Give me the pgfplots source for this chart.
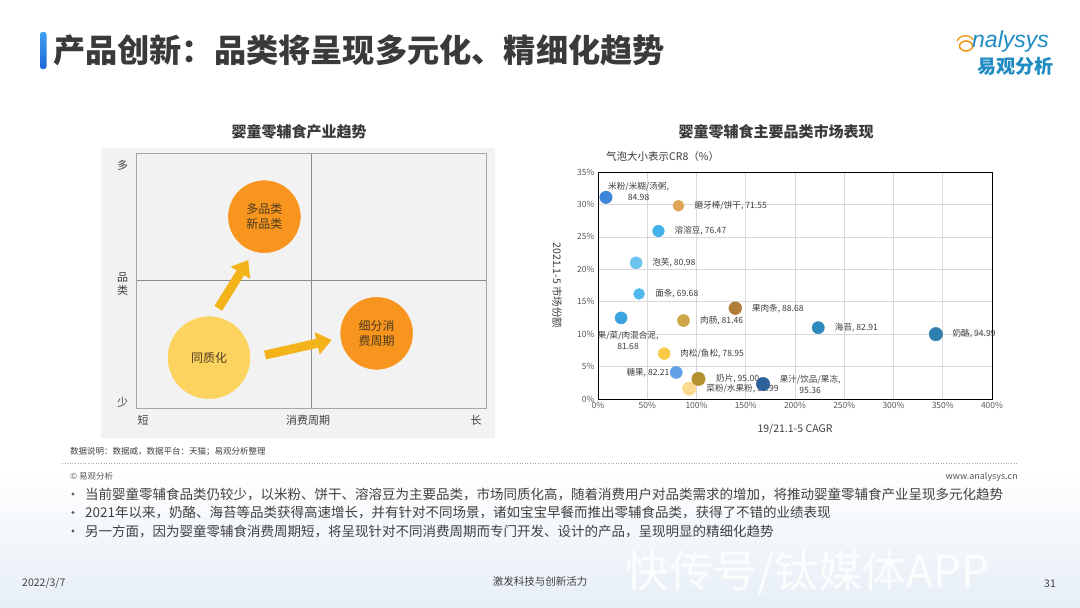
\documentclass[border=0pt]{standalone}
\usepackage{fontspec}
\setmainfont{Noto Sans CJK SC}
\newfontfamily\logofont{Liberation Sans}
\usepackage{pgfplots}
\pgfplotsset{compat=1.18}
\usetikzlibrary{arrows.meta}

\definecolor{titlegray}{HTML}{3A3A3A}
\definecolor{txtgray}{HTML}{404040}
\definecolor{tickgray}{HTML}{595959}
\definecolor{gridgray}{HTML}{D9D9D9}
\definecolor{bggray}{HTML}{F2F2F2}
\definecolor{midgray}{HTML}{8C8C8C}
\definecolor{framegray}{HTML}{A6A6A6}
\definecolor{logoblue}{HTML}{1E8BC3}
\definecolor{logoorange}{HTML}{F39A1E}
\definecolor{arrowc}{HTML}{F4B21B}
\definecolor{bigorange}{HTML}{F7951E}
\definecolor{lightorange}{HTML}{FDD35F}
\definecolor{circtxt}{HTML}{4D3B1F}
\definecolor{bgblue}{HTML}{E6EEF6}
\definecolor{bartop}{HTML}{3FA0F2}
\definecolor{barbot}{HTML}{1C68D6}
% bubble colours
\definecolor{cMifen}{HTML}{3D85D8}
\definecolor{cMoya}{HTML}{DDA555}
\definecolor{cRongrong}{HTML}{45B1EA}
\definecolor{cPaofu}{HTML}{6CC4EE}
\definecolor{cMiantiao}{HTML}{4DB8EC}
\definecolor{cGuorou}{HTML}{B07D36}
\definecolor{cHunhe}{HTML}{3BA3DF}
\definecolor{cRouchang}{HTML}{CFA648}
\definecolor{cHaitai}{HTML}{3089BD}
\definecolor{cNailao}{HTML}{2E7FAD}
\definecolor{cRousong}{HTML}{F7C945}
\definecolor{cTangguo}{HTML}{62A0E8}
\definecolor{cNaipian}{HTML}{B4902F}
\definecolor{cGuozhi}{HTML}{2C619A}
\definecolor{cCaifen}{HTML}{FBDA8E}

\pgfplotsset{
  bub/.style 2 args={only marks, mark=*, color=#1, mark size={2+0.05*#2}},
  lab/.style={every node near coord/.append style={#1}},
}

\begin{document}
\begin{tikzpicture}
\begin{scope}[x=1pt,y=-1pt]
\useasboundingbox (0,0) rectangle (1080,608);
\fill[white] (0,0) rectangle (1080,608);
\shade[top color=white, bottom color=bgblue] (0,470) rectangle (1080,608);

% header
\shade[top color=bartop, bottom color=barbot, rounded corners=2.5pt] (40,32) rectangle (46.5,69);
\node[anchor=west, inner sep=0, text=titlegray, font=\bfseries\fontsize{32.2}{33}\selectfont] at (53,50) {产品创新：品类将呈现多元化、精细化趋势};
\draw[logoorange, line width=1.6pt] (966,46) ellipse (6.5 and 5);
\draw[logoorange, line width=1.4pt] (957,41) arc (200:330:9 and 8);
\node[anchor=west, inner sep=0, text=logoblue, font=\logofont\itshape\fontsize{23}{23}\selectfont] at (972,42) {nalysys};
\node[inner sep=0, text=logoblue, font=\bfseries\fontsize{19}{19}\selectfont] at (1015,66) {易观分析};

% chart titles
\node[inner sep=0, text=titlegray, font=\bfseries\fontsize{15}{16}\selectfont] at (299,132) {婴童零辅食产业趋势};
\node[inner sep=0, text=titlegray, font=\bfseries\fontsize{15}{16}\selectfont] at (776,132) {婴童零辅食主要品类市场表现};

% left diagram background and labels
\fill[bggray] (101,148) rectangle (495,438);
\begin{scope}[every node/.style={inner sep=0, text=txtgray, font=\fontsize{11}{13}\selectfont}]
\node at (122.5,165) {多};
\node[align=center] at (122.5,284) {品\\类};
\node at (122.5,402) {少};
\node at (143,420) {短};
\node at (308,420) {消费周期};
\node at (476,420) {长};
\end{scope}

\node[anchor=west, inner sep=0, text=titlegray, font=\fontsize{10.5}{11}\selectfont] at (606,157) {气泡大小表示CR8（\%）};

% notes and bullets
\node[anchor=west, inner sep=0, text=txtgray, font=\fontsize{8.5}{9}\selectfont] at (70,452) {数据说明：数据威，数据平台：天猫；易观分析整理};
\draw[gray!70, line width=0.6pt, dotted] (62,463) -- (1018,463);
\node[anchor=west, inner sep=0, text=tickgray, font=\fontsize{8.5}{9}\selectfont] at (70,476) {© 易观分析};
\node[anchor=east, inner sep=0, text=tickgray, font=\fontsize{9}{9}\selectfont] at (1018,477) {www.analysys.cn};
\begin{scope}[every node/.style={anchor=west, inner sep=0, text=txtgray, font=\fontsize{13.5}{15}\selectfont}]
\node at (85,494) {当前婴童零辅食品类仍较少，以米粉、饼干、溶溶豆为主要品类，市场同质化高，随着消费用户对品类需求的增加，将推动婴童零辅食产业呈现多元化趋势};
\node at (85,512.5) {2021年以来，奶酪、海苔等品类获得高速增长，并有针对不同场景，诸如宝宝早餐而推出零辅食品类，获得了不错的业绩表现};
\node at (85,531) {另一方面，因为婴童零辅食消费周期短，将呈现针对不同消费周期而专门开发、设计的产品，呈现明显的精细化趋势};
\end{scope}
\foreach \yy in {494,512.5,531} \fill[tickgray] (73,\yy) circle (1.6);

% footer
\node[anchor=west, inner sep=0, text=txtgray, font=\fontsize{10.5}{11}\selectfont] at (22,583) {2022/3/7};
\node[inner sep=0, text=txtgray, font=\fontsize{10.5}{11}\selectfont] at (540,582) {激发科技与创新活力};
\node[inner sep=0, text=txtgray, font=\fontsize{10.5}{11}\selectfont] at (1050,584) {31};
\node[anchor=west, inner sep=0, text=white, opacity=0.85, font=\fontsize{44}{46}\selectfont] at (625,573) {快传号/钛媒体APP};
\end{scope}

% left: quadrant diagram
\begin{axis}[at={(136.7pt,-408.3pt)}, anchor=south west, scale only axis,
  width=349.3pt, height=255pt, xmin=0, xmax=2, ymin=0, ymax=2,
  xtick={1}, ytick={1}, xticklabels={}, yticklabels={},
  grid=major, major grid style={draw=midgray, line width=0.7pt},
  major tick length=0pt, axis line style={draw=framegray, line width=0.8pt},
  clip=false,
  every node near coord/.append style={anchor=center, inner sep=0pt, align=center, text=circtxt, font=\fontsize{12}{15}\selectfont}]
\draw[arrowc, line width=9pt, -{Triangle[width=22pt,length=15pt]}] (axis cs:0.467,0.784) -- (axis cs:0.639,1.163);
\draw[arrowc, line width=9pt, -{Triangle[width=22pt,length=15pt]}] (axis cs:0.735,0.418) -- (axis cs:1.117,0.536);
\addplot[only marks, mark=*, color=lightorange, mark size=41pt, nodes near coords={同质化}] coordinates {(0.414,0.397)};
\addplot[only marks, mark=*, color=bigorange, mark size=36pt, nodes near coords={多品类\\新品类}] coordinates {(0.731,1.503)};
\addplot[only marks, mark=*, color=bigorange, mark size=36pt, nodes near coords={细分消\\费周期}] coordinates {(1.374,0.588)};
\end{axis}

% right: bubble chart
\begin{axis}[at={(598pt,-399pt)}, anchor=south west, scale only axis,
  width=394pt, height=227pt,
  xmin=0, xmax=400, ymin=0, ymax=35,
  xtick={0,50,...,400}, ytick={0,5,...,35},
  xticklabels={0\%,50\%,100\%,150\%,200\%,250\%,300\%,350\%,400\%},
  yticklabels={0\%,5\%,10\%,15\%,20\%,25\%,30\%,35\%},
  grid=major, major grid style={draw=gridgray, line width=0.6pt},
  major tick length=0pt,
  axis line style={draw=black, line width=0.9pt},
  tick label style={font=\fontsize{8.5}{9}\selectfont, text=tickgray},
  /pgf/number format/assume math mode=true,
  xlabel={19/21.1-5 CAGR}, ylabel={2021.1-5 市场份额},
  label style={font=\fontsize{10.5}{11}\selectfont, text=txtgray},
  xlabel style={at={(axis description cs:0.5,0)}, anchor=center, yshift=-30pt},
  ylabel style={at={(axis description cs:-0.104,0.5)}, anchor=center, rotate=180},
  clip=false,
  every node near coord/.append style={inner sep=0pt, align=center, text=txtgray, font=\fontsize{8.6}{11}\selectfont}]
\addplot[bub={cMifen}{84.98}, nodes near coords={米粉/米糊/汤粥,\\84.98}, lab={anchor=west, xshift=2pt, yshift=5.5pt}] coordinates {(8.1,31.1)};
\addplot[bub={cMoya}{71.55}, nodes near coords={磨牙棒/饼干, 71.55}, lab={anchor=west, xshift=16pt}] coordinates {(81.7,29.8)};
\addplot[bub={cRongrong}{76.47}, nodes near coords={溶溶豆, 76.47}, lab={anchor=west, xshift=16pt}] coordinates {(61.4,25.9)};
\addplot[bub={cPaofu}{80.98}, nodes near coords={泡芙, 80.98}, lab={anchor=west, xshift=16pt}] coordinates {(38.7,21.0)};
\addplot[bub={cMiantiao}{69.68}, nodes near coords={面条, 69.68}, lab={anchor=west, xshift=16pt}] coordinates {(41.7,16.2)};
\addplot[bub={cGuorou}{88.68}, nodes near coords={果肉条, 88.68}, lab={anchor=west, xshift=16.5pt}] coordinates {(139.4,14.0)};
\addplot[bub={cHunhe}{81.68}, nodes near coords={果/菜/肉混合泥,\\81.68}, lab={anchor=center, xshift=7pt, yshift=-22pt}] coordinates {(23.4,12.5)};
\addplot[bub={cRouchang}{81.46}, nodes near coords={肉肠, 81.46}, lab={anchor=west, xshift=16.5pt}] coordinates {(86.8,12.1)};
\addplot[bub={cHaitai}{82.91}, nodes near coords={海苔, 82.91}, lab={anchor=west, xshift=16.5pt}] coordinates {(223.6,11.0)};
\addplot[bub={cNailao}{94.99}, nodes near coords={奶酪, 94.99}, lab={anchor=west, xshift=16.5pt}] coordinates {(343,10.0)};
\addplot[bub={cRousong}{78.95}, nodes near coords={肉松/鱼松, 78.95}, lab={anchor=west, xshift=16pt}] coordinates {(67.2,7.0)};
\addplot[bub={cTangguo}{82.21}, nodes near coords={糖果, 82.21}, lab={anchor=east, xshift=-6.5pt}] coordinates {(79.4,4.1)};
\addplot[bub={cCaifen}{93.99}, nodes near coords={菜粉/水果粉, 93.99}, lab={anchor=west, xshift=17pt}] coordinates {(92.6,1.6)};
\addplot[bub={cNaipian}{95.00}, nodes near coords={奶片, 95.00}, lab={anchor=west, xshift=17.5pt}] coordinates {(102,3.1)};
\addplot[bub={cGuozhi}{95.36}, nodes near coords={果汁/饮品/果冻,\\95.36}, lab={anchor=west, xshift=16.5pt}] coordinates {(167.6,2.3)};
\end{axis}
\end{tikzpicture}
\end{document}
